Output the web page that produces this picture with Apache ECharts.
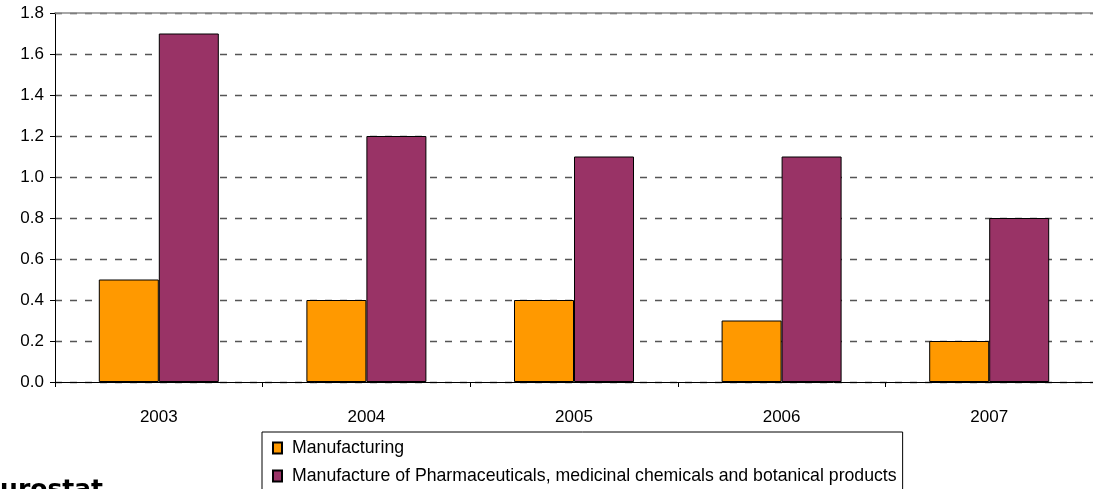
<!DOCTYPE html>
<html>
<head>
<meta charset="utf-8">
<style>
  html, body { margin: 0; padding: 0; background: #fff; }
  #chart { width: 1093px; height: 489px; }
</style>
<script src="https://cdn.jsdelivr.net/npm/echarts@6/dist/echarts.min.js"></script>
</head>
<body>
<div id="chart"></div>
<script>
const years = ['2003', '2004', '2005', '2006', '2007']
const manufacturing = [0.5, 0.4, 0.4, 0.3, 0.2]
const pharma = [1.7, 1.2, 1.1, 1.1, 0.8]
const seriesNames = [
  'Manufacturing',
  'Manufacture of Pharmaceuticals, medicinal chemicals and botanical products',
]

const sans = '"Liberation Sans", Arial, sans-serif'
const chart = echarts.init(document.getElementById('chart'))

chart.setOption({
  animation: false,
  grid: { left: 55, top: 13, width: 1050, height: 369 },
  legend: {
    orient: 'vertical',
    left: 262,
    top: 432,
    height: 80,
    itemWidth: 9,
    itemHeight: 11,
    itemGap: 10,
    padding: [7, 6, 6, 10],
    borderColor: '#000',
    borderWidth: 1,
    borderRadius: 0,
    icon: 'rect',
    textStyle: { fontFamily: sans, fontSize: 17.7, color: '#000', padding: [0, 0, 0, 5] },
    data: seriesNames,
  },
  xAxis: [
    {
      type: 'category',
      data: years,
      axisLine: { lineStyle: { color: '#000', width: 1 } },
      axisTick: { show: true, length: 5, lineStyle: { color: '#000' } },
      axisLabel: { margin: 27, fontFamily: sans, fontSize: 17, color: '#000' },
    },
    {
      type: 'category',
      data: years,
      position: 'top',
      axisLine: { show: true, lineStyle: { color: '#8a8a8a', width: 1.5 } },
      axisTick: { show: false },
      axisLabel: { show: false },
    },
  ],
  yAxis: {
    type: 'value',
    min: 0,
    max: 1.8,
    interval: 0.2,
    axisLine: { show: true, lineStyle: { color: '#000', width: 1 } },
    axisTick: { show: true, length: 5, lineStyle: { color: '#000' } },
    axisLabel: {
      margin: 11,
      fontFamily: sans,
      fontSize: 17,
      color: '#000',
      formatter: (v) => v.toFixed(1),
    },
    splitLine: {
      show: true,
      lineStyle: { color: '#555', width: 1.3, type: [7, 8] },
    },
  },
  series: [
    {
      name: seriesNames[0],
      type: 'bar',
      data: manufacturing,
      barWidth: 60,
      barGap: '0%',
      itemStyle: { color: '#ff9900', borderColor: '#000', borderWidth: 1 },
    },
    {
      name: seriesNames[1],
      type: 'bar',
      data: pharma,
      barWidth: 60,
      barGap: '0%',
      itemStyle: { color: '#993366', borderColor: '#000', borderWidth: 1 },
    },
  ],
  graphic: [
    {
      type: 'text',
      left: -17,
      top: 478,
      style: {
        text: 'Eurostat',
        font: 'bold 25px "DejaVu Sans", sans-serif',
        fill: '#000',
      },
    },
  ],
})
</script>
</body>
</html>
